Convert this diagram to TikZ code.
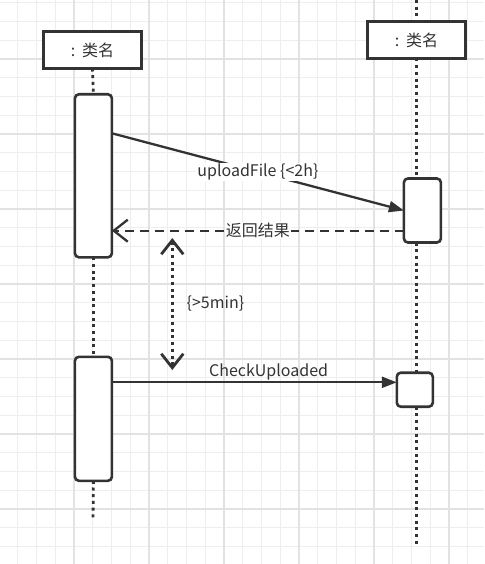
\documentclass[tikz,border=0pt]{standalone}
\usepackage{fontspec}
\setmainfont{Noto Sans CJK SC}
\usetikzlibrary{arrows.meta}
\definecolor{ink}{HTML}{333333}
\definecolor{gridminor}{HTML}{EEEEEE}
\definecolor{gridmajor}{HTML}{E2E2E2}

\begin{document}
\begin{tikzpicture}[x=1pt, y=-1pt, font=\fontsize{16}{19}\selectfont, text=ink,
    head/.style={draw=ink, line width=2.6pt, fill=white, minimum width=98pt, minimum height=37pt, inner sep=0pt, outer sep=0pt},
    act/.style={draw=ink, line width=2.6pt, fill=white, rounded corners=4pt, inner sep=0pt, outer sep=0pt, minimum width=37pt},
    life/.style={draw=ink, line width=2.8pt, dash pattern=on 3pt off 3.7pt},
    msg/.style={draw=ink, line width=2.3pt, -{Triangle[length=15pt,width=11pt]}},
    ret/.style={draw=ink, line width=2.3pt, dash pattern=on 9pt off 6pt, -{Straight Barb[length=14pt,width=22pt]}},
    lbl/.style={fill=white, inner sep=1pt}]

    \useasboundingbox (0,0) rectangle (484,564);
    \fill[white] (0,0) rectangle (484,564);
    \foreach \k in {0,...,26}
        \draw[gridminor, line width=1pt] ({-1+18.75*\k},0) -- ({-1+18.75*\k},564);
    \foreach \k in {0,...,30}
        \draw[gridminor, line width=1pt] (0,{2.75+18.75*\k}) -- (484,{2.75+18.75*\k});
    \foreach \k in {0,4,...,24}
        \draw[gridmajor, line width=1.2pt] ({-1+18.75*\k},0) -- ({-1+18.75*\k},564);
    \foreach \k in {3,7,...,31}
        \draw[gridmajor, line width=1.2pt] (0,{2.75+18.75*\k}) -- (484,{2.75+18.75*\k});

    \node[head] (hdA) at (92.5,50) {:\hspace{7pt}类名};
    \node[head] (hdB) at (416.5,40) {:\hspace{7pt}类名};
    \node[act, minimum height=163pt] (actA1) at (93.4,175.8) {};
    \node[act, minimum height=124pt] (actA2) at (93.4,418.8) {};
    \node[act, minimum height=64pt] (actB1) at (422.4,210.5) {};
    \node[act, minimum height=34pt, minimum width=36pt] (actB2) at (414.8,389.7) {};
    \coordinate (topB) at (416.5,0);
    \coordinate (endA) at (93,520);
    \coordinate (endB) at (416.5,547);
    \coordinate (durTop) at (172.3,238);
    \coordinate (durBot) at (172.3,370);

    % lifelines
    \path[life]
        (hdA.south) edge (actA1.north)
        (actA1.south) edge (actA2.north)
        (actA2.south) edge (endA)
        (topB) edge (hdB.north)
        (hdB.south) edge (hdB.south |- actB1.north)
        (hdB.south |- actB1.south) edge (hdB.south |- actB2.north)
        (hdB.south |- actB2.south) edge (endB)
        ;

    % messages
    \path
        (actA1.east |- 0,133.3) edge[msg] node[lbl, midway] {uploadFile \{<2h\}} (actB1.west)
        (actB1.west |- 0,230.7) edge[ret] node[lbl, midway] {返回结果} (actA1.east |- 0,230.7)
        (durTop) edge[life, {Straight Barb[length=14pt,width=22pt]}-{Straight Barb[length=14pt,width=22pt]}] node[midway, right, inner sep=0pt, xshift=13pt] {\{>5min\}} (durBot)
        (actA2.east |- 0,382.3) edge[msg] node[pos=0.55, above, inner sep=1pt] {CheckUploaded} (actB2.west |- 0,382.3)
        ;
\end{tikzpicture}
\end{document}
